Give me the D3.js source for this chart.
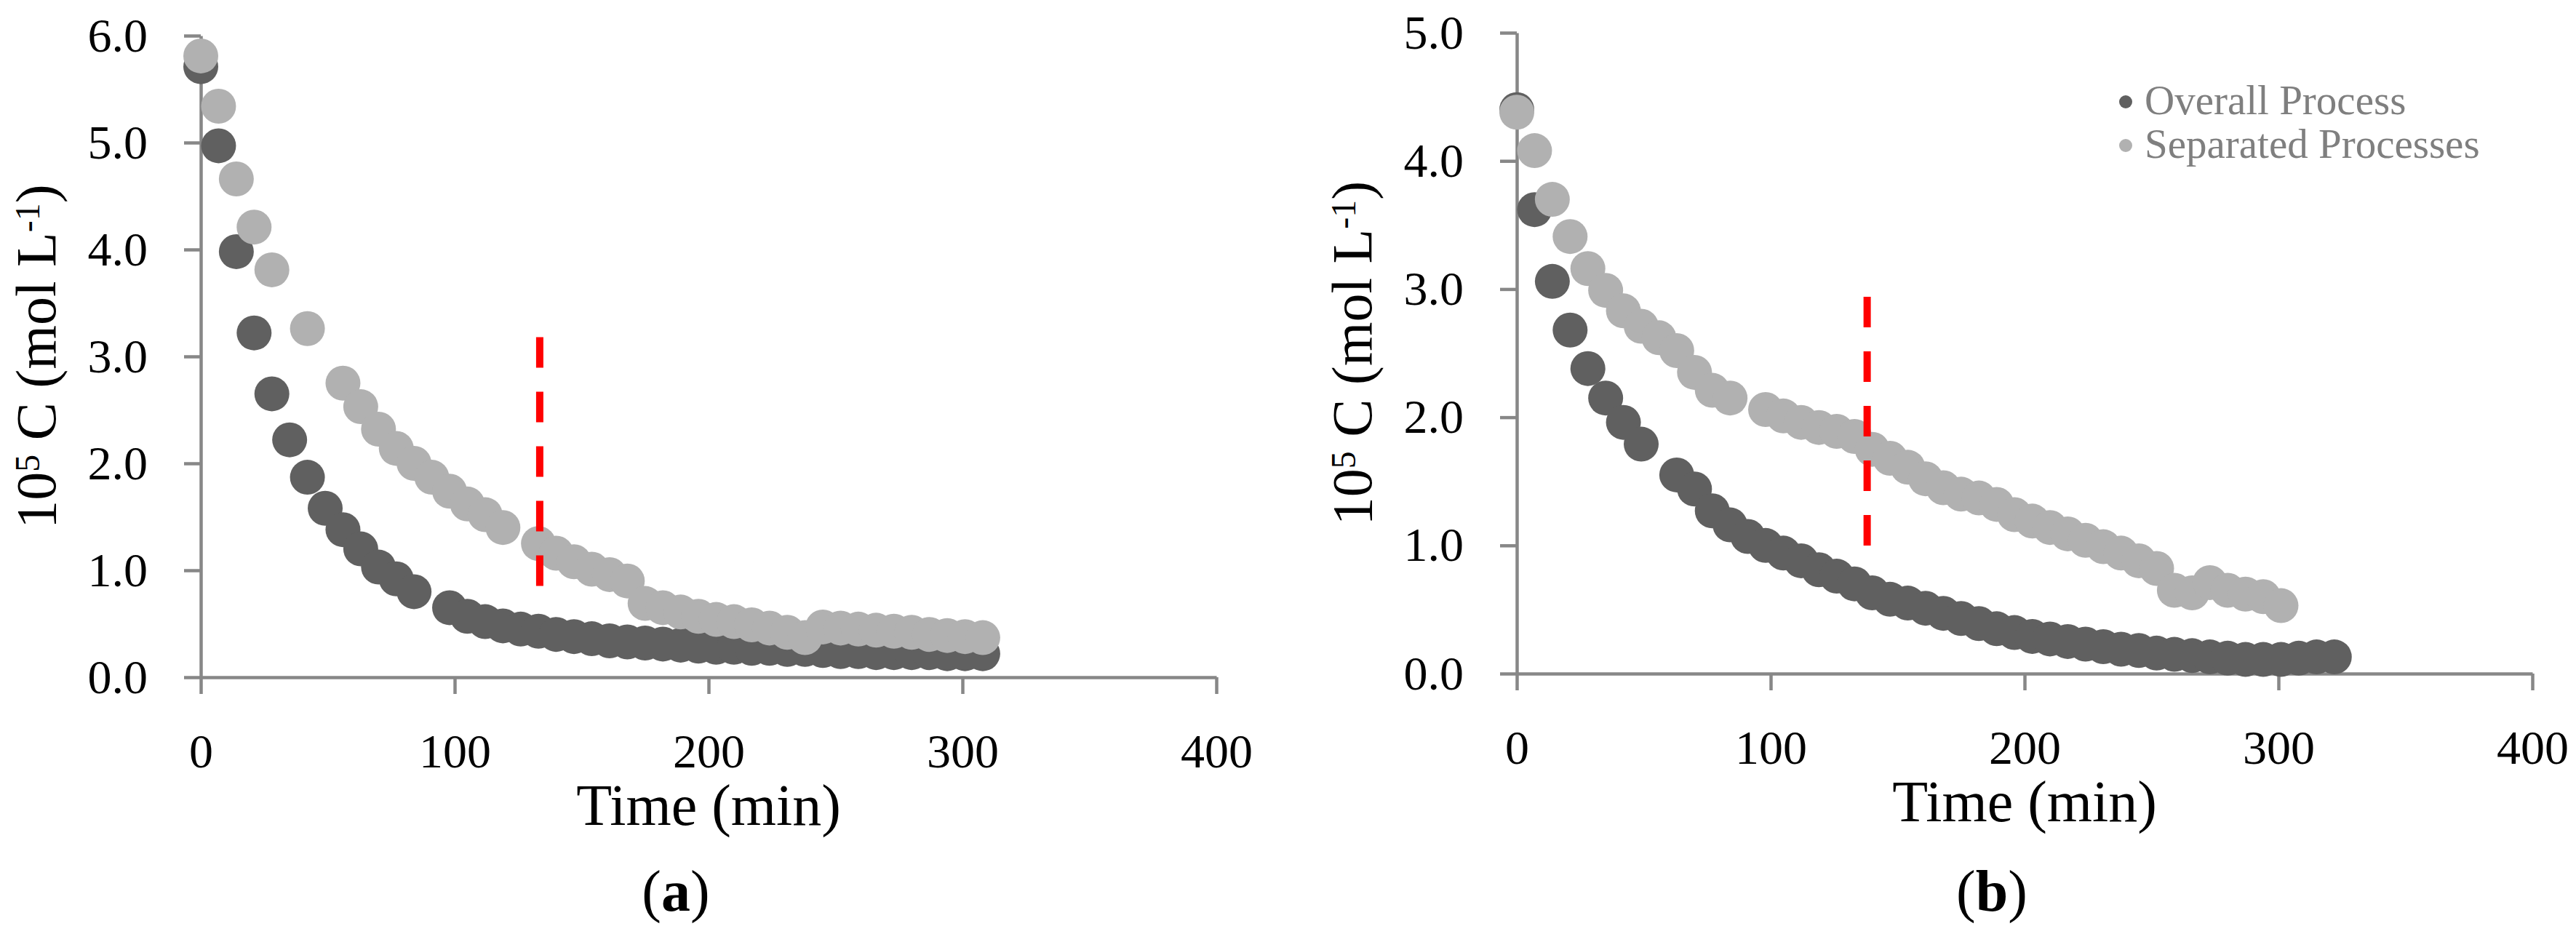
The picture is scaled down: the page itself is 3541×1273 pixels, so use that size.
<!DOCTYPE html>
<html>
<head>
<meta charset="utf-8">
<script src="https://cdn.jsdelivr.net/npm/d3@7"></script>
<style>
  body { margin: 0; background: #fff; }
  svg { display: block; font-family: 'Liberation Serif', 'Times New Roman', serif; }
</style>
</head>
<body>
<svg id="chart" width="3541" height="1273"></svg>
<script>
// ---- panel (a) data ----
const timeA_overall = [0, 7, 14, 21, 28, 35, 42, 49, 56, 63, 70, 77, 84,
  98, 105, 112, 119, 126, 133, 140, 147, 154, 161, 168, 175, 182, 189, 196, 203,
  210, 217, 224, 231, 238, 245, 252, 259, 266, 273, 280, 287, 294, 301, 308];
const concA_overall = [5.71, 4.97, 3.98, 3.22, 2.65, 2.22, 1.87, 1.58, 1.38, 1.20, 1.03, 0.92, 0.80,
  0.65, 0.57, 0.52, 0.48, 0.45, 0.43, 0.40, 0.38, 0.36, 0.34, 0.33, 0.32, 0.31, 0.30, 0.29, 0.28,
  0.28, 0.27, 0.27, 0.26, 0.26, 0.25, 0.24, 0.24, 0.23, 0.23, 0.23, 0.23, 0.22, 0.22, 0.22];

const timeA_separated = [0, 7, 14, 21, 28, 42, 56, 63, 70, 77, 84, 91, 98, 105, 112, 119,
  133, 140, 147, 154, 161, 168, 175, 182, 189, 196, 203, 210, 217, 224, 231, 238,
  245, 252, 259, 266, 273, 280, 287, 294, 301, 308];
const concA_separated = [5.81, 5.34, 4.66, 4.21, 3.81, 3.26, 2.75, 2.53, 2.32, 2.14, 2.00, 1.87, 1.74, 1.62, 1.52, 1.40,
  1.25, 1.16, 1.08, 1.01, 0.96, 0.90, 0.69, 0.65, 0.61, 0.57, 0.54, 0.52, 0.49, 0.46, 0.42, 0.37,
  0.47, 0.46, 0.45, 0.44, 0.43, 0.42, 0.40, 0.39, 0.38, 0.37];

// ---- panel (b) data ----
const timeB_overall = [0, 7, 14, 21, 28, 35, 42, 49,
  63, 70, 77, 84, 91, 98, 105, 112, 119, 126, 133, 140, 147, 154, 161, 168, 175, 182,
  189, 196, 203, 210, 217, 224, 231, 238, 245, 252, 259, 266, 273, 280, 287, 294,
  301, 308, 315, 322];
const concB_overall = [4.40, 3.62, 3.06, 2.68, 2.38, 2.15, 1.96, 1.79,
  1.55, 1.44, 1.27, 1.16, 1.07, 1.00, 0.94, 0.88, 0.81, 0.76, 0.70, 0.63, 0.58, 0.55, 0.51, 0.47, 0.43, 0.39,
  0.35, 0.32, 0.29, 0.27, 0.25, 0.23, 0.21, 0.19, 0.18, 0.16, 0.15, 0.14, 0.13, 0.12, 0.11, 0.11,
  0.11, 0.12, 0.13, 0.13];

const timeB_separated = [0, 7, 14, 21, 28, 35, 42, 49, 56, 63, 70, 77, 84,
  98, 105, 112, 119, 126, 133, 140, 147, 154, 161, 168, 175, 182, 189, 196, 203,
  210, 217, 224, 231, 238, 245, 252, 259, 266, 273, 280, 287, 294, 301];
const concB_separated = [4.38, 4.08, 3.70, 3.41, 3.16, 2.99, 2.83, 2.71, 2.62, 2.52, 2.35, 2.21, 2.15,
  2.06, 2.01, 1.96, 1.92, 1.89, 1.85, 1.75, 1.68, 1.61, 1.52, 1.45, 1.40, 1.37, 1.32, 1.24, 1.19,
  1.14, 1.09, 1.04, 0.99, 0.94, 0.88, 0.82, 0.65, 0.63, 0.71, 0.65, 0.62, 0.60, 0.53];

// red dashed marker: [time, low, high]
const splitA = [133.5, 0.84, 3.18];
const splitB = [138, 0.99, 2.94];

const xTicks = [0, 100, 200, 300, 400];
const yTicksA = [0, 1, 2, 3, 4, 5, 6];
const yTicksB = [0, 1, 2, 3, 4, 5];
const seriesNames = ['Overall Process', 'Separated Processes'];

const darkCol = '#606060';
const lightCol = '#b1b1b1';
const axisCol = '#878787';

const svg = d3.select('#chart');

function drawPanel(p) {
  const x = d3.scaleLinear().domain([0, 400]).range([p.left, p.right]);
  const y = d3.scaleLinear().domain([0, p.yMax]).range([p.bottom, p.top]);
  const g = svg.append('g').classed('panel', true);

  // y axis
  const yAx = g.append('g')
    .attr('transform', `translate(${p.left},0)`)
    .call(d3.axisLeft(y).tickValues(p.yTicks).tickFormat(d3.format('.1f'))
      .tickSize(23).tickSizeOuter(0).tickPadding(50));
  // x axis
  const xAx = g.append('g')
    .attr('transform', `translate(0,${p.bottom})`)
    .call(d3.axisBottom(x).tickValues(xTicks).tickFormat(d3.format('d'))
      .tickSize(23).tickSizeOuter(0).tickPadding(54));

  [yAx, xAx].forEach(ax => {
    ax.attr('font-size', 66).attr('font-family', null);
    ax.selectAll('path, line').attr('stroke', axisCol).attr('stroke-width', 4.5);
    ax.selectAll('text').attr('fill', '#000');
  });

  // overall process first, separated drawn on top
  g.append('g').selectAll('circle')
    .data(d3.zip(p.tDark, p.cDark))
    .enter().append('circle')
    .attr('cx', d => x(d[0]))
    .attr('cy', d => y(d[1]))
    .attr('r', 24)
    .style('fill', darkCol);

  g.append('g').selectAll('circle')
    .data(d3.zip(p.tLight, p.cLight))
    .enter().append('circle')
    .attr('cx', d => x(d[0]))
    .attr('cy', d => y(d[1]))
    .attr('r', 24)
    .style('fill', lightCol);

  g.append('line')
    .attr('x1', x(p.split[0])).attr('x2', x(p.split[0]))
    .attr('y1', y(p.split[2])).attr('y2', y(p.split[1]))
    .style('stroke', '#ff0000')
    .style('stroke-width', 10)
    .style('stroke-dasharray', '42 33');

  // axis titles
  g.append('text')
    .text('Time (min)')
    .attr('x', x(200))
    .attr('y', p.bottom + 203)
    .style('text-anchor', 'middle')
    .style('font-size', '80px')
    .style('fill', '#000');

  const yt = g.append('text')
    .attr('transform', `translate(${p.left - 200}, ${(p.top + p.bottom) / 2}) rotate(-90)`)
    .style('text-anchor', 'middle')
    .style('font-size', '78px')
    .style('fill', '#000');
  yt.append('tspan').text('10');
  yt.append('tspan').text('5').attr('dy', -22).style('font-size', '48px');
  yt.append('tspan').text(' C (mol L').attr('dy', 22);
  yt.append('tspan').text('-1').attr('dy', -22).style('font-size', '48px');
  yt.append('tspan').text(')').attr('dy', 22);

  // caption
  const cap = g.append('text')
    .attr('x', x(200) - 45)
    .attr('y', 1252)
    .style('text-anchor', 'middle')
    .style('font-size', '80px')
    .style('fill', '#000');
  cap.append('tspan').text('(');
  cap.append('tspan').text(p.label).style('font-weight', 'bold');
  cap.append('tspan').text(')');

  return { x, y, g };
}

drawPanel({
  left: 276, right: 1672, top: 49, bottom: 931, yMax: 6, yTicks: yTicksA,
  tDark: timeA_overall, cDark: concA_overall,
  tLight: timeA_separated, cLight: concA_separated,
  split: splitA, label: 'a'
});

drawPanel({
  left: 2085, right: 3481, top: 45, bottom: 926, yMax: 5, yTicks: yTicksB,
  tDark: timeB_overall, cDark: concB_overall,
  tLight: timeB_separated, cLight: concB_separated,
  split: splitB, label: 'b'
});

// legend (panel b only)
const legend = svg.append('g')
  .attr('transform', 'translate(2922, 157)');
const legItems = legend.selectAll('g')
  .data(seriesNames)
  .enter().append('g')
  .attr('transform', (d, i) => `translate(0, ${i * 60})`);
legItems.append('circle')
  .attr('cx', 0)
  .attr('cy', -17)
  .attr('r', 9)
  .style('fill', (d, i) => i === 0 ? darkCol : lightCol);
legItems.append('text')
  .text(d => d)
  .attr('x', 26)
  .style('font-size', '57px')
  .style('fill', '#7f7f7f');
</script>
</body>
</html>
